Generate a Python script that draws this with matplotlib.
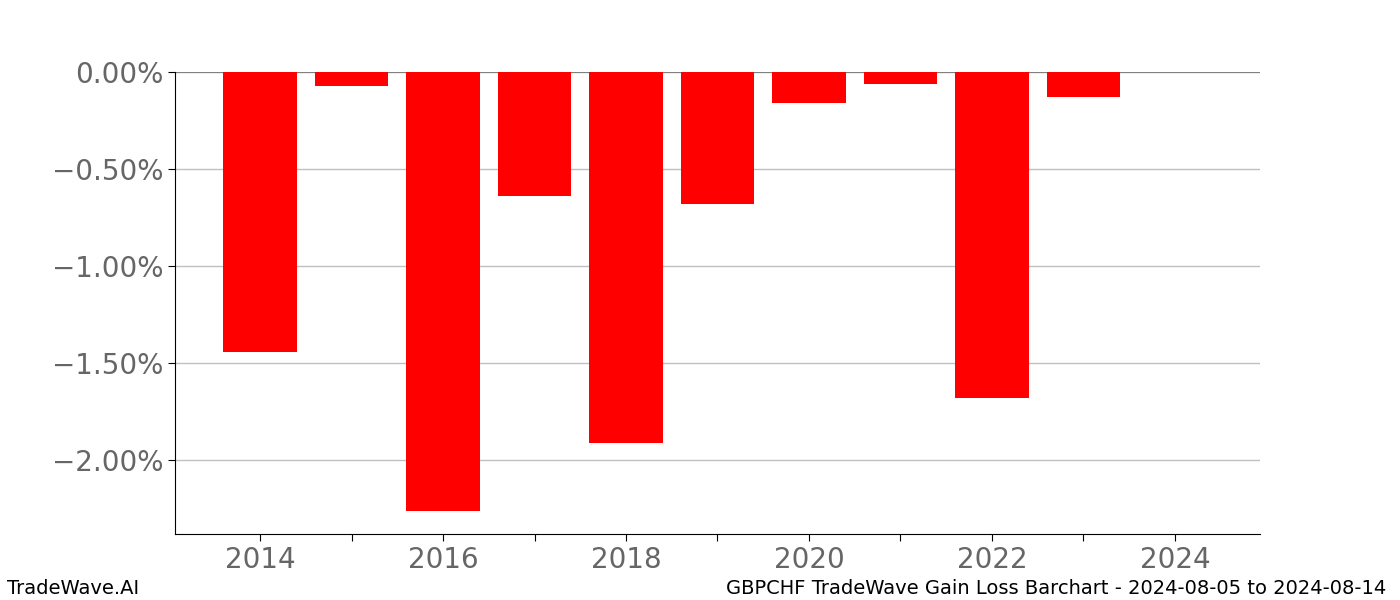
import matplotlib
matplotlib.use("Agg")
import matplotlib.pyplot as plt
from matplotlib.ticker import FuncFormatter

years = [2014, 2015, 2016, 2017, 2018, 2019, 2020, 2021, 2022, 2023]
values = [-1.44, -0.07, -2.26, -0.64, -1.91, -0.68, -0.16, -0.06, -1.68, -0.13]
tick_years = list(range(2014, 2025))
tick_labels = [str(y) if y % 2 == 0 else "" for y in tick_years]

fig = plt.figure(figsize=(14, 6), dpi=100)
ax = fig.add_axes([0.125, 0.11, 0.775, 0.77])

ax.bar(years, values, width=0.8, color="#ff0000", zorder=3)
ax.axhline(0, color="#808080", linewidth=1.5, zorder=2)

ax.set_xlim(2013.07, 2024.93)
ax.set_ylim(-2.38, 0)
ax.set_yticks([0, -0.5, -1.0, -1.5, -2.0])
ax.yaxis.set_major_formatter(FuncFormatter(lambda v, p: f"{v:.2f}%".replace("-", "\u2212")))
ax.set_xticks(tick_years)
ax.set_xticklabels(tick_labels)
ax.grid(axis="y", color="#c0c0c0", linewidth=1, zorder=0)
ax.set_axisbelow(True)

for s in ["top", "right"]:
    ax.spines[s].set_visible(False)
ax.tick_params(axis="both", labelsize=20, labelcolor="#666666", length=5)

fig.text(0.005, 0.01, "TradeWave.AI", fontsize=14, color="black", ha="left", va="baseline")
fig.text(0.99, 0.01, "GBPCHF TradeWave Gain Loss Barchart - 2024-08-05 to 2024-08-14",
         fontsize=14, color="black", ha="right", va="baseline")

fig.savefig("out.png", dpi=100)
